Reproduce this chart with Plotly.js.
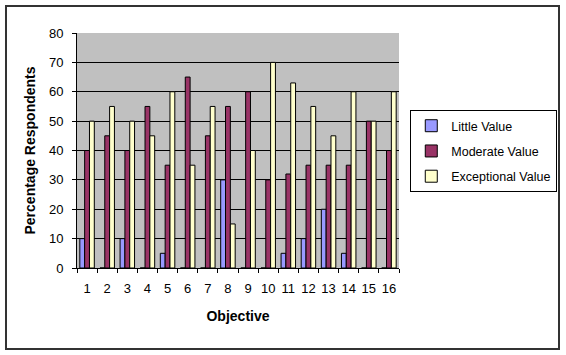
<!DOCTYPE html>
<html>
<head>
<meta charset="utf-8">
<script src="https://cdn.plot.ly/plotly-3.0.1.min.js"></script>
<style>html,body{margin:0;padding:0;background:#fff;}#chart{width:566px;height:355px;}</style>
</head>
<body>
<div id="chart"></div>
<script>
const objectives = ["1","2","3","4","5","6","7","8","9","10","11","12","13","14","15","16"];
const littleValue = [10,0,10,0,5,0,0,30,0,0,5,10,20,5,0,0];
const moderateValue = [40,45,40,55,35,65,45,55,60,30,32,35,35,35,50,40];
const exceptionalValue = [50,55,50,45,60,35,55,15,40,70,63,55,45,60,50,60];
const yTicks = [0,10,20,30,40,50,60,70,80];

const mk = (name, y, color, g) => ({
  type: 'bar', name: name, x: objectives, y: y, legendgroup: g,
  marker: {color: color, line: {color: '#000', width: 1}}
});
const data = [
  mk('Little Value', littleValue, '#9999FF', 'a'),
  mk('Moderate Value', moderateValue, '#993366', 'b'),
  mk('Exceptional Value', exceptionalValue, '#FFFFCC', 'c')
];
const fam = 'Liberation Sans, Arial, sans-serif';
const tickFont = {family: fam, size: 13, color: '#000'};
const titleFont = {family: fam, size: 14, color: '#000'};
const legFont = {family: fam, size: 12.5, color: '#000'};
const layout = {
  width: 566, height: 355,
  margin: {l: 77, r: 167, t: 33, b: 87, autoexpand: false},
  paper_bgcolor: '#fff', plot_bgcolor: '#C0C0C0',
  font: tickFont,
  barmode: 'group', bargap: 0.28, bargroupgap: 0,
  xaxis: {
    type: 'category', tickson: 'boundaries', ticks: 'outside', ticklen: 4, tickcolor: '#000',
    tickangle: 0, ticklabelstandoff: 8,
    showline: true, linecolor: '#000', linewidth: 1, showgrid: false, zeroline: false,
    tickfont: tickFont,
    title: {text: '<b>Objective</b>', font: titleFont, standoff: 16}
  },
  yaxis: {
    range: [0, 80], tickvals: yTicks, ticks: 'outside', ticklen: 4, tickcolor: '#000',
    ticklabelstandoff: 6,
    showline: true, linecolor: '#000', linewidth: 1, gridcolor: '#000', gridwidth: 1,
    zeroline: false, tickfont: tickFont,
    title: {text: '<b>Percentage Respondents</b>', font: titleFont, standoff: 10}
  },
  showlegend: true,
  legend: {
    x: 1.035, y: 0.672, xanchor: 'left', yanchor: 'top',
    bordercolor: '#000', borderwidth: 1, bgcolor: '#fff',
    font: legFont, traceorder: 'grouped', tracegroupgap: 6
  },
  shapes: [{
    type: 'rect', xref: 'paper', yref: 'paper',
    x0: -0.2205, x1: 1.4969, y0: -0.3447, y1: 1.1149,
    line: {color: '#333', width: 2}, fillcolor: 'rgba(0,0,0,0)', layer: 'below'
  }]
};
Plotly.newPlot('chart', data, layout, {displayModeBar: false, staticPlot: true});
</script>
</body>
</html>
